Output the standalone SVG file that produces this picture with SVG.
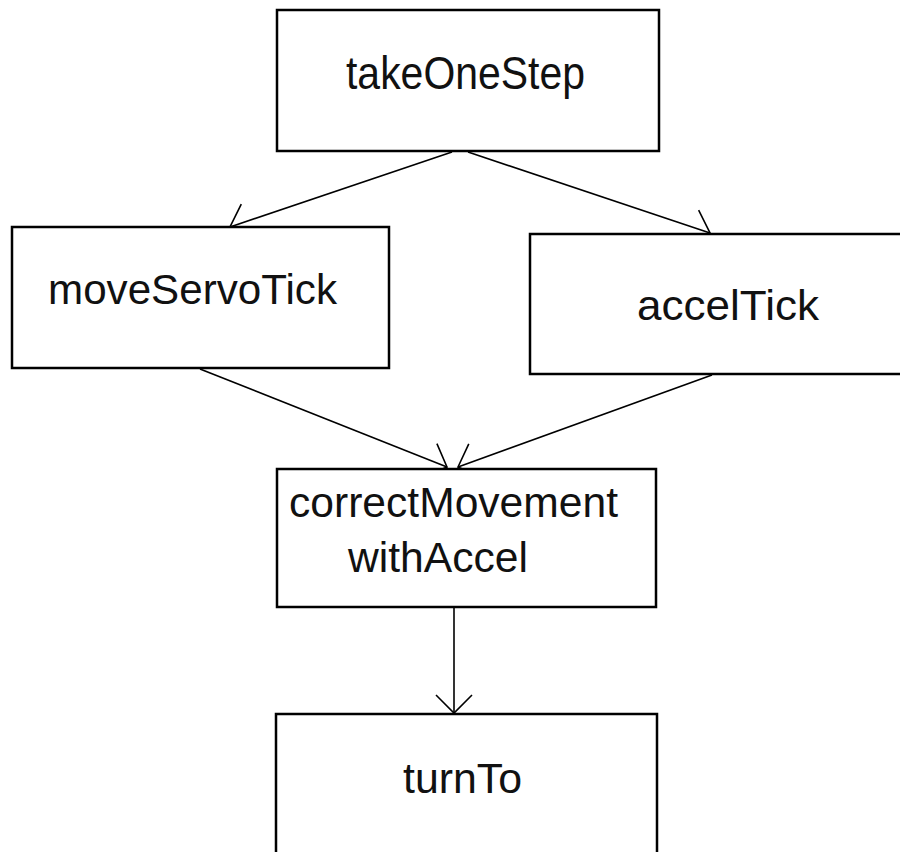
<svg xmlns="http://www.w3.org/2000/svg" width="900" height="852" viewBox="0 0 900 852">
<style>
.box{fill:#fff;stroke:#000;stroke-width:2.5}
.lbl{font-family:"Liberation Sans",Arial,sans-serif;font-size:43px;fill:#111}
.con{stroke:#000;stroke-width:1.6;fill:none}
</style>
<defs>
<marker id="ah" markerUnits="userSpaceOnUse" markerWidth="40" markerHeight="40" refX="0" refY="0" viewBox="-25 -20 30 40" orient="auto" overflow="visible">
<path d="M-18,-18 L0,0 L-18,18" fill="none" stroke="#000" stroke-width="1.6"/>
</marker>
</defs>
<rect width="900" height="852" fill="#fff"/>
<g id="connectors">
<line class="con" x1="452" y1="152" x2="230" y2="227" marker-end="url(#ah)"/>
<line class="con" x1="468" y1="152" x2="710" y2="233" marker-end="url(#ah)"/>
<line class="con" x1="200" y1="369" x2="447" y2="467" marker-end="url(#ah)"/>
<line class="con" x1="712" y1="375" x2="458" y2="467" marker-end="url(#ah)"/>
<line class="con" x1="454" y1="608" x2="454" y2="713" marker-end="url(#ah)"/>
</g>
<g id="takeOneStep">
<rect class="box" x="277" y="10" width="382" height="141"/>
<text class="lbl" x="346" y="89" textLength="239" lengthAdjust="spacingAndGlyphs" style="font-size:46px">takeOneStep</text>
</g>
<g id="moveServoTick">
<rect class="box" x="12" y="227" width="377" height="141"/>
<text class="lbl" x="48" y="304" textLength="289" lengthAdjust="spacingAndGlyphs">moveServoTick</text>
</g>
<g id="accelTick">
<rect class="box" x="530" y="234" width="390" height="140"/>
<text class="lbl" x="637" y="320" textLength="182" lengthAdjust="spacingAndGlyphs">accelTick</text>
</g>
<g id="correctMovementWithAccel">
<rect class="box" x="277" y="469" width="379" height="138"/>
<text class="lbl" x="289" y="517" textLength="329" lengthAdjust="spacingAndGlyphs">correctMovement</text>
<text class="lbl" x="348" y="572" textLength="180" lengthAdjust="spacingAndGlyphs">withAccel</text>
</g>
<g id="turnTo">
<rect class="box" x="276" y="714" width="381" height="160"/>
<text class="lbl" x="403" y="793" textLength="119" lengthAdjust="spacingAndGlyphs">turnTo</text>
</g>
</svg>
